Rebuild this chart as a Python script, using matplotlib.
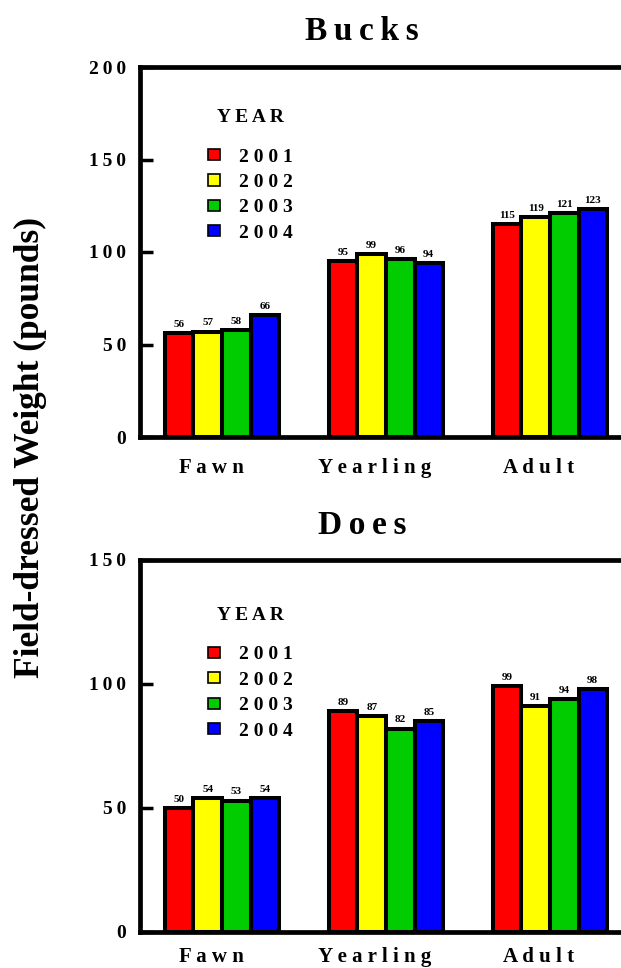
import matplotlib
matplotlib.use("Agg")
import matplotlib.pyplot as plt
import matplotlib.transforms as mtransforms
from matplotlib.patches import Patch

plt.rcParams["font.family"] = ["Liberation Serif", "DejaVu Serif"]
plt.rcParams["font.weight"] = "bold"

# ---- data ----
ages = ["Fawn", "Yearling", "Adult"]
years = ["2001", "2002", "2003", "2004"]
colors = ["#ff0000", "#ffff00", "#00cc00", "#0000ff"]

bucks = {
    "2001": [56, 95, 115],
    "2002": [57, 99, 119],
    "2003": [58, 96, 121],
    "2004": [66, 94, 123],
}
does = {
    "2001": [50, 89, 99],
    "2002": [54, 87, 91],
    "2003": [53, 82, 94],
    "2004": [54, 85, 98],
}

bucks_ticks = [0, 50, 100, 150, 200]
does_ticks = [0, 50, 100, 150]

BAR_W = 0.174


def spaced(s, sep=" "):
    return sep.join(s)


def panel(fig, rect, title, data, ticks, leg_y, title_pad, xpad):
    ax = fig.add_axes(rect)
    for i, yr in enumerate(years):
        xs = [g + (i - 1.5) * BAR_W for g in range(len(ages))]
        vals = data[yr]
        ax.bar(xs, vals, width=BAR_W, color=colors[i], edgecolor="black",
               linewidth=2.9, label=spaced(yr), zorder=3)
        for x, v in zip(xs, vals):
            ax.annotate(str(v), (x, v), xytext=(0, 3), textcoords="offset points",
                        ha="center", va="bottom", fontsize=8, fontweight="bold")
    ax.set_xlim(-0.5, 2.5)
    ax.set_ylim(ticks[0], ticks[-1])
    ax.set_yticks(ticks)
    ax.set_yticklabels([spaced(str(t), "\u2009") for t in ticks], fontsize=14)
    ax.tick_params(axis="y", direction="in", length=9, width=2.5, pad=10)
    ax.set_xticks(range(len(ages)))
    ax.set_xticklabels([spaced(a) for a in ages], fontsize=15)
    ax.tick_params(axis="x", length=0, pad=xpad)
    # group labels sit a little left of the bar groups
    shift = mtransforms.ScaledTranslation(-11 / 100, 0, fig.dpi_scale_trans)
    for lab in ax.get_xticklabels():
        lab.set_transform(lab.get_transform() + shift)
    for side in ("left", "bottom", "top"):
        ax.spines[side].set_linewidth(3.4)
    ax.spines["right"].set_visible(False)
    ax.set_title(spaced(title, "\u2009"), fontsize=24, fontweight="bold", pad=title_pad,
                 x=(362 - rect[0] * 621) / (rect[2] * 621))
    handles = [Patch(facecolor=c, edgecolor="black", linewidth=1.2) for c in colors]
    leg = ax.legend(handles, [spaced(y) for y in years], title=spaced("YEAR"),
                    loc="upper left", bbox_to_anchor=(0.103, leg_y), frameon=False,
                    fontsize=14, title_fontsize=14, handlelength=0.6,
                    handleheight=0.5, handletextpad=1.0, labelspacing=0.43)
    leg.get_title().set_fontweight("bold")
    leg._legend_box.sep = 16
    return ax


fig = plt.figure(figsize=(6.21, 9.68), dpi=100)
panel(fig, [140 / 621, 1 - 437 / 968, 492 / 621, 370 / 968], "Bucks", bucks,
      bucks_ticks, 0.933, 19.5, 15)
panel(fig, [140 / 621, 1 - 932 / 968, 492 / 621, 372 / 968], "Does", does,
      does_ticks, 0.92, 18.5, 11)
fig.text(30 / 621, 1 - 448 / 968, "Field-dressed Weight (pounds)", rotation=90,
         ha="center", va="center", fontsize=25.5, fontweight="bold")
fig.savefig("out.png", dpi=100, facecolor="white")
